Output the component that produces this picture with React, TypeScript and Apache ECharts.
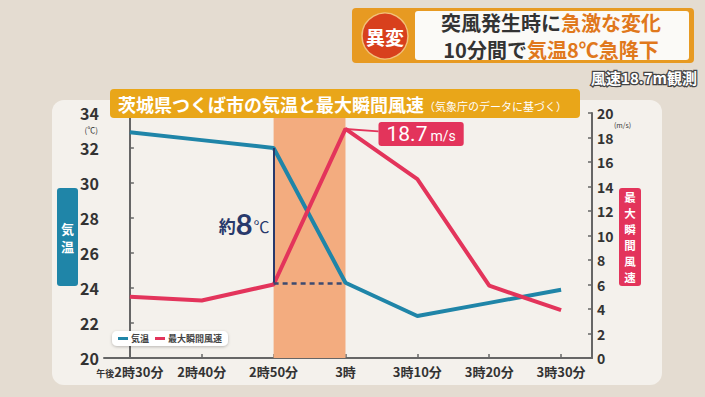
import React, { useEffect, useRef } from "react";
import * as echarts from "echarts";

const times = [0, 10, 20, 30, 40, 50, 60];
const timeLabels = ["午後2時30分", "2時40分", "2時50分", "3時", "3時10分", "3時20分", "3時30分"];
const temperature = [32.9, 32.45, 32.0, 24.3, 22.4, 23.15, 23.9];
const windGust = [5.0, 4.7, 6.0, 18.7, 14.6, 5.9, 3.9];
const tempTicks = [20, 22, 24, 26, 28, 30, 32, 34];
const windTicks = [0, 2, 4, 6, 8, 10, 12, 14, 16, 18, 20];

const FONT = '"Noto Sans CJK JP", "Noto Sans", sans-serif';
const BLUE = "#1f85a8";
const RED = "#e3345b";
const NAVY = "#28396b";

export default function App() {
  const ref = useRef<HTMLDivElement>(null);
  useEffect(() => {
    if (!ref.current) return;
    const chart = echarts.init(ref.current, null, { renderer: "svg" });
    const tempData = times.map((t, i) => [t, temperature[i]]);
    const windData = times.map((t, i) => [t, windGust[i]]);
    const peakIdx = windGust.indexOf(Math.max(...windGust));
    const dropStart = 2;
    const dropEnd = 3;
    chart.setOption({
      animation: false,
      backgroundColor: "#e4dcd1",
      textStyle: { fontFamily: FONT },
      grid: { left: 104, right: 113, top: 113, bottom: 39 },
      legend: {
        left: 112,
        top: 331,
        itemWidth: 10,
        itemHeight: 3,
        itemGap: 6,
        icon: "rect",
        backgroundColor: "#ffffff",
        borderRadius: 5,
        padding: [3, 6],
        shadowColor: "rgba(0,0,0,0.25)",
        shadowBlur: 3,
        shadowOffsetY: 1,
        textStyle: { fontSize: 9, fontWeight: "bold", color: "#444", padding: [0, 0, 0, -2] },
        data: ["気温", "最大瞬間風速"],
      },
      xAxis: {
        type: "value",
        min: -3.6,
        max: 64.3,
        axisLine: { lineStyle: { color: "#666", width: 2 } },
        axisTick: { inside: true, length: 4, customValues: times, lineStyle: { color: "#666", width: 1.5 } },
        splitLine: { show: false },
        axisLabel: {
          customValues: times,
          margin: 7,
          fontSize: 13,
          fontWeight: "bold",
          color: "#333",
          formatter: (v: number) => {
            const i = times.indexOf(v);
            const s = i >= 0 ? timeLabels[i] : "";
            return s.startsWith("午後") ? "{s|午後}" + s.slice(2) : s;
          },
          rich: { s: { fontSize: 9, fontWeight: "bold", color: "#333", padding: [3, 0, 0, 0] } },
        },
      },
      yAxis: [
        {
          type: "value",
          min: tempTicks[0],
          max: tempTicks[tempTicks.length - 1],
          interval: 2,
          axisLine: { show: true, lineStyle: { color: "#666", width: 2 } },
          axisTick: { show: true, inside: true, length: 4, lineStyle: { color: "#666", width: 1.5 } },
          splitLine: { show: false },
          axisLabel: { fontSize: 16, fontWeight: "bold", color: "#333", margin: 5, lineHeight: 15 },
        },
        {
          type: "value",
          min: windTicks[0],
          max: windTicks[windTicks.length - 1],
          interval: 2,
          position: "right",
          axisLine: { show: true, lineStyle: { color: "#666", width: 2 } },
          axisTick: { show: true, inside: true, length: 4, lineStyle: { color: "#666", width: 1.5 } },
          splitLine: { show: false },
          axisLabel: { fontSize: 14, fontWeight: "bold", color: "#333", margin: 5, lineHeight: 13 },
        },
      ],
      series: [
        {
          name: "気温",
          type: "line",
          yAxisIndex: 0,
          data: tempData,
          showSymbol: false,
          symbol: "none",
          lineStyle: { color: BLUE, width: 4 },
          itemStyle: { color: BLUE },
          z: 3,
          markArea: {
            silent: true,
            itemStyle: { color: "#f3ac7f" },
            data: [[{ xAxis: times[dropStart] }, { xAxis: times[dropEnd] }]],
          },
          markLine: {
            silent: true,
            symbol: "none",
            label: { show: false },
            data: [
              [
                { coord: [times[dropStart], temperature[dropStart]], lineStyle: { color: NAVY, width: 2, type: "solid" } },
                { coord: [times[dropStart], temperature[dropEnd]] },
              ],
              [
                { coord: [times[dropStart], temperature[dropEnd]], lineStyle: { color: "#3d4a70", width: 2.5, type: [5, 4] } },
                { coord: [times[dropEnd], temperature[dropEnd]] },
              ],
            ],
          },
          markPoint: {
            silent: true,
            symbol: "circle",
            symbolSize: 0,
            data: [
              {
                coord: [times[dropStart], 27.7],
                label: {
                  show: true,
                  position: "left",
                  distance: 4,
                  formatter: "{a|約}{b|8}{c|℃}",
                  rich: {
                    a: { fontSize: 17, fontWeight: "bold", color: NAVY, padding: [5, 0, 0, 0] },
                    b: { fontSize: 29, fontWeight: "bold", color: NAVY, fontFamily: "Lato" },
                    c: { fontSize: 16, color: NAVY, padding: [5, 0, 0, 1] },
                  },
                },
              },
            ],
          },
        },
        {
          name: "最大瞬間風速",
          type: "line",
          yAxisIndex: 1,
          data: windData,
          showSymbol: false,
          symbol: "none",
          lineStyle: { color: RED, width: 4 },
          itemStyle: { color: RED },
          z: 4,
          markLine: {
            silent: true,
            symbol: "none",
            label: { show: false },
            data: [
              [
                { coord: [times[peakIdx], windGust[peakIdx]], lineStyle: { color: RED, width: 2, type: "solid" } },
                { coord: [times[peakIdx] + 4.6, windGust[peakIdx] - 0.2] },
              ],
            ],
          },
          markPoint: {
            silent: true,
            symbol: "circle",
            symbolSize: 0,
            data: [
              {
                coord: [times[peakIdx], windGust[peakIdx]],
                label: {
                  show: true,
                  position: "right",
                  distance: 0,
                  offset: [33, 5],
                  backgroundColor: RED,
                  borderRadius: 3,
                  padding: [2, 8, 1, 8],
                  formatter: "{a|" + windGust[peakIdx].toFixed(1) + "}{b|m/s}",
                  rich: {
                    a: { fontSize: 21, color: "#fff", fontFamily: "Roboto", letterSpacing: 1 },
                    b: { fontSize: 14, color: "#fff", fontFamily: "Roboto", padding: [4, 0, 0, 3] },
                  },
                },
              },
            ],
          },
        },
      ],
      graphic: [
        { type: "rect", z: -10, shape: { x: 52, y: 100, width: 610, height: 285, r: 12 }, style: { fill: "#f4f1ec" } },
        { type: "text", z: 10, x: 98, y: 129.5, style: { text: "(℃)", fontSize: 8, fill: "#333", align: "right", verticalAlign: "middle", fontFamily: FONT } },
        { type: "text", z: 10, x: 614, y: 125, style: { text: "(m/s)", fontSize: 7, fill: "#333", align: "left", verticalAlign: "middle", fontFamily: FONT } },
        { type: "rect", z: 10, shape: { x: 57, y: 188, width: 21, height: 98, r: 3 }, style: { fill: BLUE } },
        { type: "text", z: 11, x: 67.5, y: 237, style: { text: "気\n温", fontSize: 13, lineHeight: 18, fontWeight: "bold", fill: "#fff", align: "center", verticalAlign: "middle", fontFamily: FONT } },
        { type: "rect", z: 10, shape: { x: 619, y: 188, width: 22, height: 98, r: 3 }, style: { fill: RED } },
        { type: "text", z: 11, x: 630, y: 237, style: { text: "最\n大\n瞬\n間\n風\n速", fontSize: 11.5, lineHeight: 16, fontWeight: "bold", fill: "#fff", align: "center", verticalAlign: "middle", fontFamily: FONT } },
        { type: "rect", z: 20, shape: { x: 110, y: 89, width: 470, height: 29, r: 4 }, style: { fill: "#e9a619" } },
        {
          type: "text", z: 21, x: 118, y: 104,
          style: {
            text: "{a|茨城県つくば市の気温と最大瞬間風速}{b|（気象庁のデータに基づく）}",
            verticalAlign: "middle",
            fontFamily: FONT,
            rich: {
              a: { fontSize: 18, fontWeight: "bold", fill: "#fff", fontFamily: FONT },
              b: { fontSize: 11, fill: "#fff", fontFamily: FONT, padding: [3, 0, 0, 0] },
            },
          },
        },
        { type: "rect", z: 20, shape: { x: 352, y: 8, width: 342, height: 55, r: 4 }, style: { fill: "#e79a22" } },
        { type: "rect", z: 21, shape: { x: 415, y: 11, width: 274, height: 49, r: 3 }, style: { fill: "#fbfaf7" } },
        { type: "circle", z: 22, shape: { cx: 385, cy: 36, r: 23 }, style: { fill: "#d8401d", stroke: "#f2c07a", lineWidth: 1.5 } },
        { type: "text", z: 23, x: 385, y: 36, style: { text: "異変", fontSize: 19, fontWeight: "bold", fill: "#fff", align: "center", verticalAlign: "middle", fontFamily: FONT } },
        {
          type: "text", z: 23, x: 551, y: 35.5,
          style: {
            text: "{k|突風発生時に}{o|急激な変化}\n{k|10分間で}{o|気温8℃急降下}",
            align: "center", verticalAlign: "middle", fontFamily: FONT,
            rich: {
              k: { fontSize: 20, fontWeight: "bold", fill: "#333", fontFamily: FONT, lineHeight: 27 },
              o: { fontSize: 20, fontWeight: "bold", fill: "#e0781c", fontFamily: FONT, lineHeight: 27 },
            },
          },
        },
        {
          type: "text", z: 23, x: 697, y: 77,
          style: { text: "風速18.7m観測", fontSize: 15, fontWeight: "bold", fill: "#fff", stroke: "#444", lineWidth: 2.5, align: "right", verticalAlign: "middle", fontFamily: FONT },
        },
      ],
    });
    return () => chart.dispose();
  }, []);
  return <div ref={ref} style={{ position: "fixed", left: 0, top: 0, width: 705, height: 397 }} />;
}
